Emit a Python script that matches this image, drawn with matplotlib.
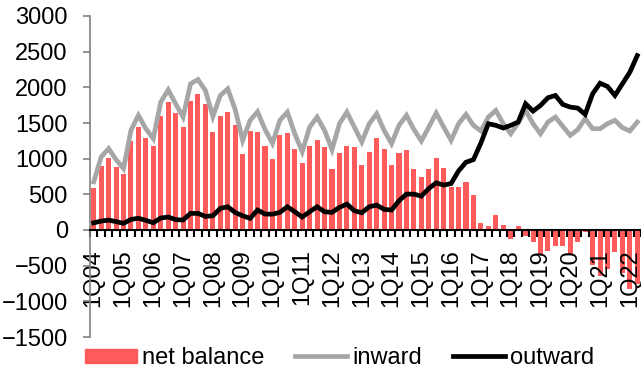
import numpy as np
import matplotlib
matplotlib.use("Agg")
import matplotlib.pyplot as plt
from matplotlib.patches import Patch
from matplotlib.lines import Line2D

plt.rcParams["font.family"] = ["Liberation Sans", "DejaVu Sans"]

# quarterly flows, 1Q04 onwards
net_balance = [590, 900, 1010, 885, 780, 1250, 1450, 1285, 1175, 1605,
               1800, 1635, 1440, 1815, 1900, 1765, 1370, 1600, 1660, 1465,
               1070, 1385, 1375, 1175, 995, 1330, 1355, 1130, 935, 1180,
               1255, 1160, 862, 1080, 1178, 1158, 905, 1100, 1283, 1140,
               910, 1073, 1118, 862, 745, 862, 1010, 876, 605, 605,
               673, 487, 100, 56, 210, 75, -128, 60, -80, -175,
               -340, -300, -220, -220, -350, -165, -30, -490, -650, -540,
               -310, -605, -825, -750]
inward = [675, 1024, 1141, 987, 862, 1397, 1607, 1420, 1281, 1793,
          1965, 1770, 1583, 2049, 2110, 1956, 1590, 1885, 1979, 1690,
          1257, 1537, 1658, 1410, 1215, 1537, 1653, 1350, 1100, 1443,
          1583, 1397, 1127, 1490, 1653, 1443, 1234, 1490, 1630, 1397,
          1211, 1467, 1607, 1410, 1248, 1443, 1639, 1443, 1257, 1490,
          1621, 1467, 1388, 1583, 1676, 1490, 1350, 1500, 1676, 1490,
          1350, 1513, 1583, 1453, 1327, 1407, 1560, 1420, 1420, 1490,
          1537, 1435, 1388, 1513]
outward = [100, 125, 138, 118, 93, 148, 165, 135, 102, 168,
           182, 145, 140, 233, 233, 190, 200, 303, 326, 245,
           200, 163, 280, 224, 222, 247, 326, 256, 182, 256,
           326, 256, 247, 317, 363, 270, 242, 326, 349, 289,
           280, 410, 503, 503, 475, 582, 661, 629, 652, 829,
           950, 987, 1220, 1490, 1467, 1430, 1467, 1513, 1770, 1667,
           1746, 1854, 1886, 1760, 1723, 1709, 1621, 1909, 2058, 2012,
           1886, 2049, 2212, 2445]

years = list(range(2004, 2023))
year_labels = [f"1Q{y % 100:02d}" for y in years]

BAR_RED = "#FF5B5B"
GREY = "#A6A6A6"
FS = 17
LW = 3.4

x = np.arange(len(net_balance))

fig = plt.figure(figsize=(6.41, 3.76), dpi=100)
ax = fig.add_axes([90 / 641, 39 / 376, 551 / 641, 321 / 376])

ax.bar(x, net_balance, width=0.68, color=BAR_RED, zorder=1)
ax.plot(x, inward, color=GREY, lw=LW, solid_joinstyle="miter", zorder=2)
ax.plot(x, outward, color="black", lw=LW, solid_joinstyle="miter", zorder=3)

ax.set_xlim(-0.5, 73.0)
ax.set_ylim(-1500, 3000)
ax.set_yticks(np.arange(-1500, 3001, 500))

# category axis sits on zero, ticks between quarters
for s in ["top", "right"]:
    ax.spines[s].set_visible(False)
ax.spines["bottom"].set_position(("data", 0))
ax.spines["bottom"].set_linewidth(1.5)
ax.spines["left"].set_color("#808080")
ax.spines["left"].set_linewidth(1.2)

ax.set_xticks(np.arange(0, len(net_balance), 4))
ax.set_xticklabels(year_labels, rotation=90, fontsize=FS)
ax.set_xticks(np.arange(-0.5, len(net_balance), 1), minor=True)
ax.tick_params(axis="x", which="major", length=0, pad=14)
ax.tick_params(axis="x", which="minor", length=5, width=1.5, direction="out")
ax.tick_params(axis="y", length=5, width=1.2, color="#808080", pad=11,
               labelsize=FS)

handles = [Patch(color=BAR_RED, label="net balance"),
           Line2D([], [], color=GREY, lw=LW, label="inward"),
           Line2D([], [], color="black", lw=LW, label="outward")]
fig.legend(handles=handles, loc="center left", bbox_to_anchor=(85 / 641, 18 / 376),
           ncol=3, frameon=False, fontsize=FS, handlelength=2.2,
           handleheight=0.55, handletextpad=0.22, columnspacing=1.3,
           borderpad=0, borderaxespad=0)

fig.savefig("out.png", dpi=100)
